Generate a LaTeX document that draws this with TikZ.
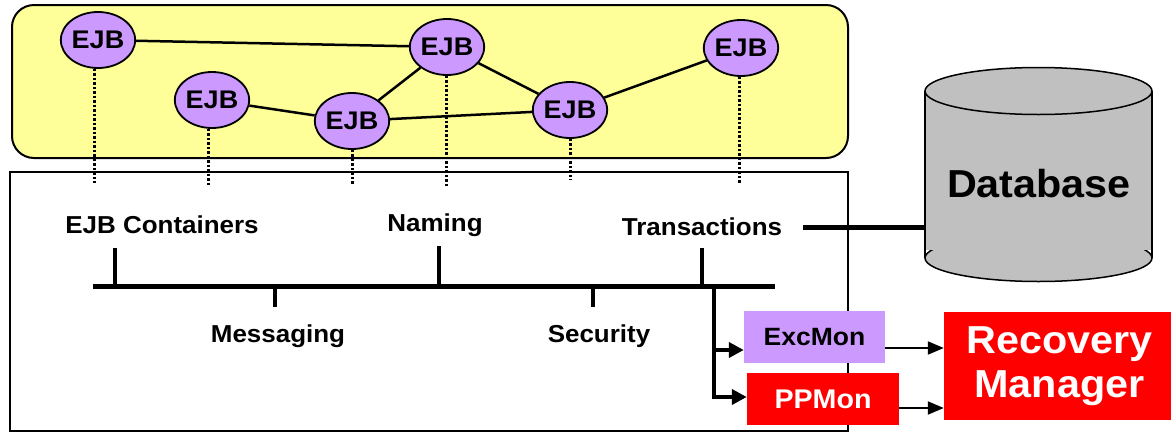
\documentclass[tikz,border=0pt]{standalone}
\usepackage{fontspec}
\setmainfont{Liberation Sans}[FakeStretch=1.06]
\usetikzlibrary{shapes.geometric,arrows.meta}
\definecolor{paleyellow}{HTML}{FFFF99}
\definecolor{lilac}{HTML}{CC99FF}
\definecolor{dbgray}{HTML}{C0C0C0}
\definecolor{alarmred}{HTML}{FF0000}

\begin{document}
\begin{tikzpicture}[x=1pt,y=-1pt,
  ejb/.style={ellipse,draw,line width=1.8pt,fill=lilac,minimum width=72pt,
    minimum height=56pt,inner sep=0pt,font=\fontsize{25.5}{28}\selectfont\bfseries},
  link/.style={line width=2.5pt},
  dots/.style={line width=3pt,dash pattern=on 2.5pt off 2pt},
  lbl/.style={anchor=base,inner sep=0pt,font=\fontsize{24.5}{28}\selectfont\bfseries},
  bus/.style={line width=5pt},
  tick/.style={line width=3.5pt},
  feed/.style={line width=4pt,-{Triangle[length=15pt,width=15pt]}},
  signal/.style={line width=2pt,-{Triangle[length=16pt,width=13pt]}},
  monbox/.style={draw=none,inner sep=0pt,font=\bfseries},
]
\useasboundingbox (0,0) rectangle (1171,432);

% container tier and server frame
\draw[line width=2pt,fill=paleyellow,rounded corners=22pt] (12,5) rectangle (848,158);
\draw[line width=1.5pt] (10,172) rectangle (848,431);

% EJB instances
\node[ejb] (e1) at (98,40)  {EJB};
\node[ejb] (e2) at (447,47) {EJB};
\node[ejb] (e3) at (741,48) {EJB};
\node[ejb] (e4) at (212,100) {EJB};
\node[ejb] (e5) at (352,121) {EJB};
\node[ejb] (e6) at (570,110) {EJB};

\draw[link] (e1) -- (e2);
\draw[link] (e2) -- (e5);
\draw[link] (e2) -- (e6);
\draw[link] (e4) -- (e5);
\draw[link] (e5) -- (e6);
\draw[link] (e6) -- (e3);

% dotted drops into the server
\coordinate (d1) at (94,183);
\coordinate (d2) at (446,188);
\coordinate (d3) at (739,183);
\coordinate (d4) at (208,185);
\coordinate (d5) at (352,185);
\coordinate (d6) at (570,180);
\draw[dots] (e1.south -| d1) -- (d1);
\draw[dots] (e2.south -| d2) -- (d2);
\draw[dots] (e3.south -| d3) -- (d3);
\draw[dots] (e4.south -| d4) -- (d4);
\draw[dots] (e5.south -| d5) -- (d5);
\draw[dots] (e6.south -| d6) -- (d6);

% services
\node[lbl] (lc) at (162,233) {EJB Containers};
\node[lbl] (ln) at (435,231) {Naming};
\node[lbl] (lt) at (702,235) {Transactions};
\node[lbl] (lm) at (278,342) {Messaging};
\node[lbl] (ls) at (599,342) {Security};

% service bus
\coordinate (busL) at (93,286);
\coordinate (busR) at (775,286);
\draw[bus] (busL) -- (busR);
\coordinate (tc) at (115,248);
\coordinate (tn) at (439,246);
\coordinate (tt) at (702,248);
\coordinate (tm) at (275,307);
\coordinate (ts) at (593,307);
\draw[tick] (tc |- busL) -- (tc);
\draw[tick] (tn |- busL) -- (tn);
\draw[tick] (tt |- busL) -- (tt);
\draw[tick] (tm |- busL) -- (tm);
\draw[tick] (ts |- busL) -- (ts);

% database
\draw[line width=1.5pt,fill=dbgray] (1038.5,258) ellipse [x radius=113.5pt,y radius=23.5pt];
\fill[dbgray] (925,91) rectangle (1152,250);
\draw[line width=1.5pt] (925,91) -- (925,258) (1152,91) -- (1152,258);
\draw[line width=1.5pt,fill=dbgray] (1038.5,91) ellipse [x radius=113.5pt,y radius=23.5pt];
\node[lbl,font=\fontsize{39}{44}\selectfont\bfseries] (db) at (1039,197) {Database};
\coordinate (txOut) at (803,227);
\coordinate (dbIn) at (925,227);
\draw[bus] (txOut) -- (dbIn);

% monitors and recovery
\node[monbox,fill=lilac,minimum width=141pt,minimum height=52pt,
  font=\fontsize{25}{28}\selectfont\bfseries] (exc) at (814.5,337) {ExcMon};
\node[monbox,fill=alarmred,text=white,minimum width=152pt,minimum height=52pt,
  font=\fontsize{27}{30}\selectfont\bfseries] (pp) at (823,399) {PPMon};
\node[monbox,fill=alarmred,text=white,minimum width=231pt,minimum height=108pt,
  align=center,font=\fontsize{39}{43}\selectfont\bfseries] (rm) at (1059.5,366) {Recovery\\[1pt]Manager};

\coordinate (bj) at (714,286);
\coordinate (excIn) at ([yshift=-13pt]exc.west);
\coordinate (ppIn) at ([yshift=2pt]pp.west);
\draw[feed] (bj) |- (ppIn);
\draw[feed] (bj |- excIn) -- (excIn);

\coordinate (excOut) at ([yshift=-11pt]exc.east);
\coordinate (ppOut) at ([yshift=-9pt]pp.east);
\draw[signal] (excOut) -- (excOut -| rm.west);
\draw[signal] (ppOut) -- (ppOut -| rm.west);
\end{tikzpicture}
\end{document}
